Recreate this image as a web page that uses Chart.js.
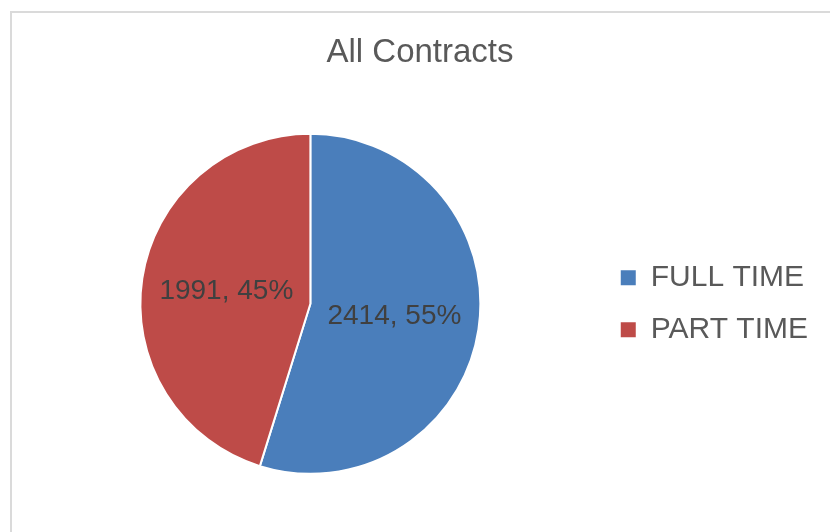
<!DOCTYPE html>
<html>
<head>
<meta charset="utf-8">
<script src="https://cdn.jsdelivr.net/npm/chart.js@4.4.1/dist/chart.umd.min.js"></script>
<style>
  html, body { margin: 0; padding: 0; background: #fff; overflow: hidden; }
  .marco {
    position: absolute; left: 10px; top: 11px;
    width: 830px; height: 530px;
    border-left: 2px solid #dadada; border-top: 2px solid #dadada;
  }
  .marco canvas { display: block; }
</style>
</head>
<body>
<div class="marco">
  <canvas id="tarta" width="820" height="519"></canvas>
</div>
<script>
// datos
const categorias = ['FULL TIME', 'PART TIME'];
const contratos = [2414, 1991];
const porcentajes = [55, 45];
const colores = ['#4a7ebb', '#be4b48'];

// etiquetas dentro de cada porcion
const etiquetasPlugin = {
    id: 'etiquetas',
    afterDatasetsDraw: function(chart) {
        const ctx = chart.ctx;
        const meta = chart.getDatasetMeta(0);
        ctx.save();
        ctx.font = '28px "Liberation Sans", Arial, sans-serif';
        ctx.fillStyle = '#404040';
        ctx.textAlign = 'center';
        ctx.textBaseline = 'middle';
        meta.data.forEach(function(arc, i) {
            const p = arc.tooltipPosition();
            ctx.fillText(contratos[i] + ', ' + porcentajes[i] + '%', p.x, p.y);
        });
        ctx.restore();
    }
};

new Chart(document.getElementById('tarta'), {
    type: 'pie',
    data: {
        labels: categorias,
        datasets: [{
            data: contratos,
            backgroundColor: colores,
            borderColor: '#ffffff',
            borderWidth: 2,
            hoverOffset: 0,
            radius: 170
        }]
    },
    options: {
        responsive: false,
        animation: false,
        layout: { padding: { left: 10, right: 14, top: 0, bottom: 7 } },
        plugins: {
            title: {
                display: true,
                text: 'All Contracts',
                color: '#595959',
                font: { family: '"Liberation Sans", Arial, sans-serif', size: 33, weight: 'normal' },
                padding: { top: 20, bottom: 10 }
            },
            legend: {
                position: 'right',
                fullSize: false,
                labels: {
                    color: '#595959',
                    font: { family: '"Liberation Sans", Arial, sans-serif', size: 30 },
                    boxWidth: 15,
                    boxHeight: 15,
                    padding: 22,
                    generateLabels: function(chart) {
                        const items = Chart.controllers.pie.overrides.plugins.legend.labels.generateLabels(chart);
                        items.forEach(function(it) { it.lineWidth = 0; });
                        return items;
                    }
                }
            },
            tooltip: { enabled: false }
        }
    },
    plugins: [etiquetasPlugin]
});
</script>
</body>
</html>
